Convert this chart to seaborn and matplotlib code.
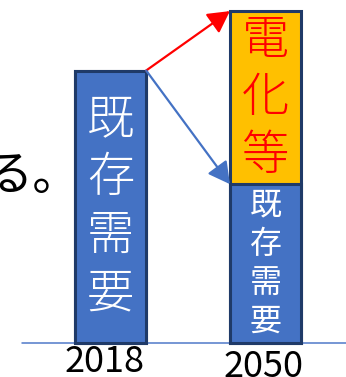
import matplotlib
matplotlib.use("Agg")
import matplotlib.pyplot as plt
import seaborn as sns
import pandas as pd

# Demand composition (index, 2018 = 100)
years = ["2018", "2050"]
existing_demand = [100, 58.3]
electrification = [0, 63.5]
existing_label = "既存需要"
electric_label = "電化等"
lead_text = "る。"

BLUE = "#4472C4"
NAVY = "#1F3A68"
ORANGE = "#FFC000"
RED = "#FF0000"

sns.set_theme(style="white")
plt.rcParams["font.family"] = ["Noto Sans CJK JP", "DejaVu Sans"]

df = pd.DataFrame({
    "year": years,
    "existing": existing_demand,
    "total": [a + b for a, b in zip(existing_demand, electrification)],
})

W, H = 346, 377
fig = plt.figure(figsize=(W / 100, H / 100), dpi=100)
ax = fig.add_axes([0, 0, 1, 1])

bar_w = 0.46
edge_kw = dict(edgecolor=NAVY, linewidth=2.2, width=bar_w, zorder=3)
sns.barplot(data=df, x="year", y="total", color=ORANGE, saturation=1, ax=ax, **edge_kw)
sns.barplot(data=df, x="year", y="existing", color=BLUE, saturation=1, ax=ax, **edge_kw)

px_per_unit = 2.725
ax.set_xlim(-0.713, 1.519)
ax.set_ylim(-34 / px_per_unit, 343 / px_per_unit)
ax.axis("off")

# baseline
ax.axhline(0, xmin=22 / W, xmax=1, color="#4F79C9", lw=1.1, zorder=1)

# arrows from the 2018 bar top to the 2050 segments
half = bar_w / 2
start = (0 + half, df["total"][0])
for end_y, col in [(df["total"][1], RED), (df["existing"][1], BLUE)]:
    ax.annotate("", xy=(1 - half, end_y), xytext=start,
                arrowprops=dict(arrowstyle="-|>,head_length=0.55,head_width=0.3",
                                color=col, lw=1.6,
                                mutation_scale=24, shrinkA=0, shrinkB=0),
                zorder=4)


def vertical_label(x, y_center, text, size, color, step_px, weight="normal"):
    n = len(text)
    step_pt = step_px * 72 / 100
    for i, ch in enumerate(text):
        off = ((n - 1) / 2 - i) * step_pt
        ax.annotate(ch, xy=(x, y_center), xytext=(0, off),
                    textcoords="offset points", ha="center", va="center",
                    fontsize=size, color=color, fontweight=weight, zorder=5)


vertical_label(0, existing_demand[0] / 2, existing_label, 34, "white", 58, "light")
vertical_label(1, existing_demand[1] / 2, existing_label, 23, "white", 38.5)
vertical_label(1, existing_demand[1] + electrification[1] / 2, electric_label,
               34, RED, 57.5, "light")

# year labels under the baseline
for i, (yr, dx, dy) in enumerate(zip(years, [-4.5, -1.5], [-0.5, -4.5])):
    ax.annotate(yr, xy=(i, 0), xytext=(dx, dy), textcoords="offset points",
                ha="center", va="top", fontsize=26, color="black")

fig.text(-14 / W, 1 - 190 / H, lead_text, fontsize=34, color="black",
         ha="left", va="baseline")

fig.savefig("out.png", dpi=100)
